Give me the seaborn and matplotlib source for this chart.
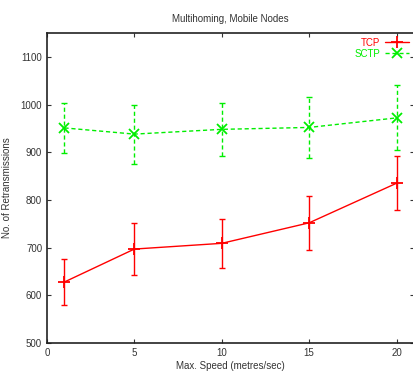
import matplotlib
matplotlib.use("Agg")
import matplotlib.pyplot as plt
import seaborn as sns
import pandas as pd

speeds = [1, 5, 10, 15, 20]
tcp_mean = [628, 697, 709, 752, 835]
tcp_err = [48, 54, 51, 56, 57]
sctp_mean = [951, 938, 948, 952, 972]
sctp_err = [52, 62, 56, 64, 68]
yticks = [500, 600, 700, 800, 900, 1000, 1100]
xticks = [0, 5, 10, 15, 20]

sns.set_style("ticks")
plt.rcParams['font.family'] = ['Liberation Sans', 'DejaVu Sans']

fig = plt.figure(figsize=(4.14, 3.75), dpi=100)
ax = fig.add_axes([0.1135, 0.0853, 0.8865, 0.8267])

df = pd.DataFrame({
    "speed": speeds * 2,
    "value": tcp_mean + sctp_mean,
    "proto": ["TCP"] * 5 + ["SCTP"] * 5,
})
red = "#ff0000"
green = "#00ee00"
sns.lineplot(data=df[df.proto == "TCP"], x="speed", y="value", ax=ax, color=red,
             lw=1.0, marker="+", markersize=9, markeredgewidth=1.3,
             markeredgecolor=red, label="TCP")
sns.lineplot(data=df[df.proto == "SCTP"], x="speed", y="value", ax=ax, color=green,
             lw=1.0, ls=(0, (3, 2)), marker="x", markersize=7.5, markeredgewidth=1.3,
             markeredgecolor=green, label="SCTP")
ax.errorbar(speeds, tcp_mean, yerr=tcp_err, fmt="none", ecolor=red, elinewidth=1.0, capsize=2)
eb = ax.errorbar(speeds, sctp_mean, yerr=sctp_err, fmt="none", ecolor=green, elinewidth=1.0, capsize=2)
for lc in eb[2]:
    lc.set_linestyle((0, (3, 2)))

ax.set_xlim(0, 21)
ax.set_ylim(500, 1150)
ax.set_xticks(xticks)
ax.set_yticks(yticks)
ax.tick_params(direction="in", length=3, labelsize=7, top=True, right=True, colors="#333333")
for s in ax.spines.values():
    s.set_color("#222222")
    s.set_linewidth(1.2)
ax.spines["right"].set_visible(False)

ax.set_title("Multihoming, Mobile Nodes", fontsize=7, color="#333333", pad=8)
ax.set_xlabel("Max. Speed (metres/sec)", fontsize=7, color="#333333", labelpad=2)
ax.set_ylabel("No. of Retransmissions", fontsize=7, color="#333333", labelpad=6)

leg = ax.legend(loc="upper right", markerfirst=False, frameon=False, fontsize=7,
                handlelength=2.5, borderaxespad=0.1, labelspacing=0.1, handletextpad=0.5)
for t, c in zip(leg.get_texts(), [red, green]):
    t.set_color(c)

fig.savefig("out.png", dpi=100)
